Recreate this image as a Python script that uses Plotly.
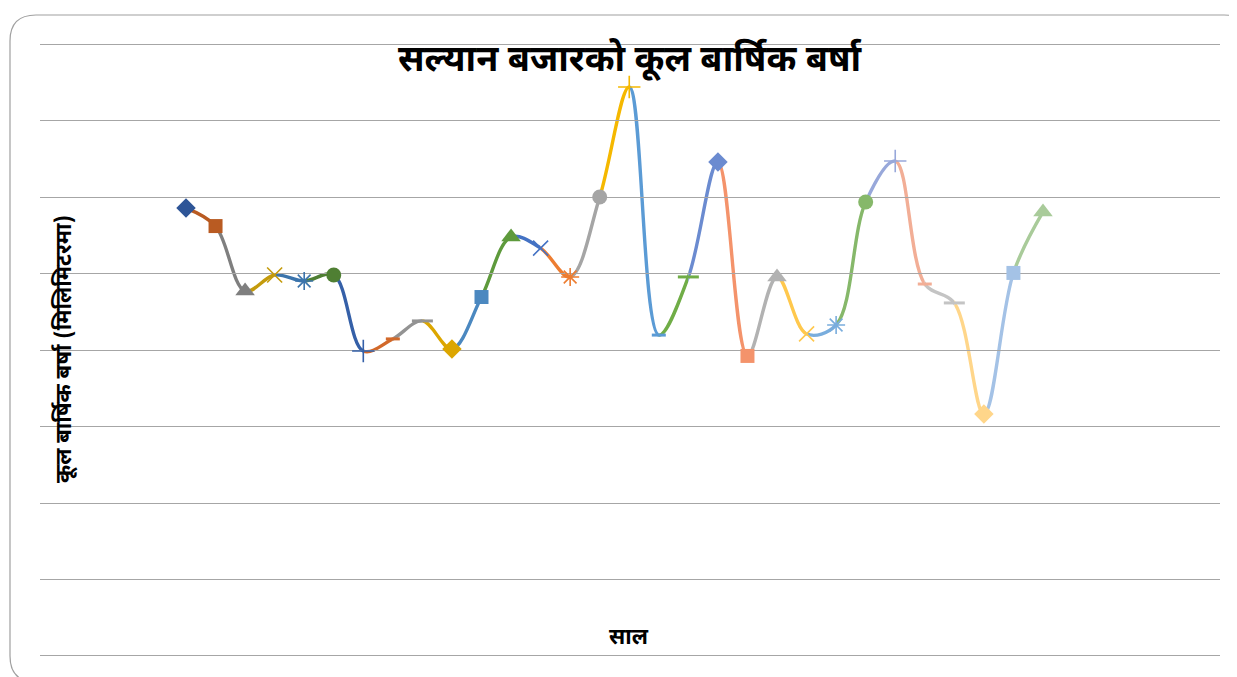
import plotly.graph_objects as go

# ---- data (y scale is not labelled in the original) ----
years = [1987, 1988, 1989, 1990, 1991, 1992, 1993, 1994, 1995, 1996,
         1997, 1998, 1999, 2000, 2001, 2002, 2003, 2004, 2005, 2006,
         2007, 2008, 2009, 2010, 2011, 2012, 2013, 2014, 2015, 2016]
rain = [2342, 2248, 1908, 1992, 1961, 1992, 1595, 1658, 1752, 1605,
        1877, 2191, 2133, 1982, 2400, 2975, 1678, 1982, 2583, 1569,
        1982, 1684, 1731, 2374, 2588, 1945, 1846, 1265, 2003, 2322]

point_colors = ['#2E5597', '#B95B22', '#7F7F7F', '#C49B0C', '#3B74AC', '#4F7F33',
                '#3560A8', '#D2692A', '#939393', '#DCA600', '#4B88C0', '#5E9A3C',
                '#4472C4', '#ED7D31', '#A5A5A5', '#F5B800', '#5B9BD5', '#70AD47',
                '#6B8BD0', '#F4936B', '#B2B2B2', '#FFC84D', '#79ADDD', '#86B86A',
                '#98A8DA', '#F2AE96', '#C4C4C4', '#FFD68A', '#A4C2E6', '#A9CB9A']

symbol_cycle = ['diamond', 'square', 'triangle-up', 'x-thin-open', 'asterisk-open',
                'circle', 'cross-thin-open', 'line-ew-open', 'line-ew-open']
size_cycle = [15, 14, 17, 15, 15, 15, 16, 10, 15]
lw_cycle = [0, 0, 0, 1.6, 1.6, 0, 1.6, 3, 3]

title_text = 'सल्यान बजारको कूल बार्षिक बर्षा'
ytitle_text = 'कूल बार्षिक बर्षा (मिलिमिटरमा)'
xtitle_text = 'साल'

# ---- layout geometry (page has an 8px body margin, so the figure is offset by 8px) ----
OFF = 8
W, H = 1237 - OFF, 677 - OFF
ML, MR, MT, MB = 40 - OFF, 17, 42 - OFF, 19
XR = [1982.06, 2021.99]
YR = [-10.5, 3210.5]
FONT = 'Noto Sans Devanagari, Noto Sans, Lohit Devanagari, sans-serif'


def frac(x):
    return (x - XR[0]) / (XR[1] - XR[0])


fig = go.Figure()
layout = dict(
    width=W, height=H,
    margin=dict(l=ML, r=MR, t=MT, b=MB, pad=0),
    paper_bgcolor='white', plot_bgcolor='rgba(0,0,0,0)',
    showlegend=False,
    xaxis=dict(range=XR, domain=[0, 1], visible=False, anchor='y'),
    yaxis=dict(range=YR, domain=[0, 1], anchor='x', showgrid=True, dtick=400, tick0=0,
               gridcolor='#A6A6A6', gridwidth=1.3, zeroline=False,
               showticklabels=False, ticks='', showline=False),
)

n = len(years)
# one line segment per point (Excel "vary colors by point"), each clipped to its own x-domain
for k in range(1, n):
    ax_id = k + 1
    layout[f'xaxis{ax_id}'] = dict(domain=[frac(years[k - 1]), frac(years[k])],
                                   range=[years[k - 1], years[k]],
                                   anchor='y', visible=False)
    fig.add_trace(go.Scatter(
        x=years, y=rain, mode='lines', xaxis=f'x{ax_id}', yaxis='y',
        line=dict(color=point_colors[k], width=3.4, shape='spline', smoothing=1.0),
        hoverinfo='skip'))

# markers on top (own overlay subplot, drawn last)
mk_id = 99
layout[f'xaxis{mk_id}'] = dict(domain=[0, 1], range=XR, anchor='y', visible=False)
syms = [symbol_cycle[i % 9] for i in range(n)]
sizes = [size_cycle[i % 9] for i in range(n)]
lws = [lw_cycle[i % 9] for i in range(n)]
fig.add_trace(go.Scatter(
    x=years, y=rain, mode='markers', xaxis=f'x{mk_id}', yaxis='y',
    cliponaxis=False, opacity=1,
    marker=dict(symbol=syms, size=sizes, color=point_colors, opacity=1,
                line=dict(color=point_colors, width=lws))))

# text (positions given in reference-page pixels)
ypx = lambda py: (H - MB - (py - OFF)) / (H - MT - MB)
xpx = lambda px: ((px - OFF) - ML) / (W - ML - MR)
annotations = [
    dict(text=title_text, x=0.5, y=ypx(62), xref='paper', yref='paper', showarrow=False,
         xanchor='center', yanchor='middle',
         font=dict(family=FONT, size=36, color='black', weight='bold')),
    dict(text=ytitle_text, x=xpx(65), y=ypx(349), xref='paper', yref='paper', showarrow=False,
         textangle=-90, xanchor='center', yanchor='middle',
         font=dict(family=FONT, size=22, color='black', weight='bold')),
    dict(text=xtitle_text, x=xpx(629), y=ypx(638), xref='paper', yref='paper', showarrow=False,
         xanchor='center', yanchor='middle',
         font=dict(family=FONT, size=22, color='black', weight='bold')),
]
layout['annotations'] = annotations

# rounded chart-area border
L, T, R, B = xpx(10), ypx(15), xpx(1250), ypx(682)
rx, ry = 26 / (W - ML - MR), 26 / (H - MT - MB)
path = (f'M {L},{B + ry} L {L},{T - ry} Q {L},{T} {L + rx},{T} '
        f'L {R - rx},{T} Q {R},{T} {R},{T - ry} L {R},{B + ry} '
        f'Q {R},{B} {R - rx},{B} L {L + rx},{B} Q {L},{B} {L},{B + ry} Z')
layout['shapes'] = [dict(type='path', path=path, xref='paper', yref='paper',
                         line=dict(color='#A0A0A0', width=1.2), layer='above')]

fig.update_layout(**layout)
fig.write_html('out.html')
